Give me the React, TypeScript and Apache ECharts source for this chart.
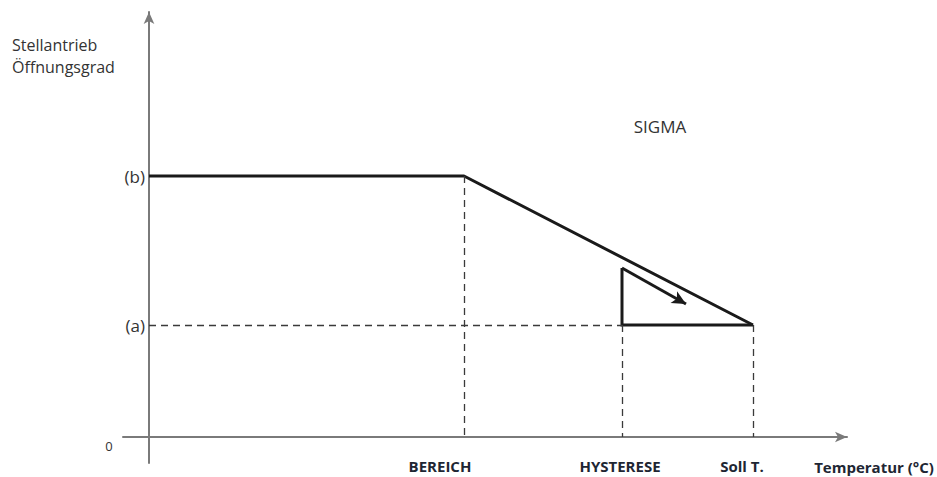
import React, { useEffect, useRef } from 'react';
import * as echarts from 'echarts';

// Conceptual axis units (origin = intersection of the axes)
const xMin = -26;
const xMax = 698;
const yMin = -26;
const yMax = 425;

// Characteristic temperatures on the x axis
const xMarks = [315, 473, 604];
const xMarkLabels = ['BEREICH', 'HYSTERESE', 'Soll T.'];

// Characteristic actuator opening levels on the y axis
const levelValues = [112, 261];
const levelLabels = ['(a)', '(b)'];

// SIGMA curve
const curveX = [0, 315, 604];
const curveY = [261, 261, 112];

// Hysteresis triangle (open sides)
const triangleX = [473, 473, 604];
const triangleY = [169, 112, 112];

// Arrow inside the triangle
const arrowX = [473, 537];
const arrowY = [169, 133];

const zip = (xs: number[], ys: number[]) => xs.map((x, i) => [x, ys[i]]);

export default function App() {
  const ref = useRef<HTMLDivElement>(null);

  useEffect(() => {
    if (!ref.current) return;
    const chart = echarts.init(ref.current, undefined, { renderer: 'svg' });
    const axisColor = '#7a7a7a';
    const dashColor = '#3a3a3a';
    const labelColor = '#1e2633';
    const boldLabel = { fontFamily: 'Open Sans', fontWeight: 'bold', fontSize: 15, color: labelColor };

    const dashed = {
      type: 'line',
      data: [],
      silent: true,
      markLine: {
        silent: true,
        symbol: ['none', 'none'],
        label: { show: false },
        lineStyle: { color: dashColor, width: 1.3, type: [7, 5] },
        data: [
          [{ coord: [xMarks[0], curveY[1]] }, { coord: [xMarks[0], 0] }],
          [{ coord: [xMarks[1], levelValues[0]] }, { coord: [xMarks[1], 0] }],
          [{ coord: [xMarks[2], levelValues[0]] }, { coord: [xMarks[2], 0] }],
          [{ coord: [0, levelValues[0]] }, { coord: [xMarks[1], levelValues[0]] }],
        ],
      },
    };

    chart.setOption({
      animation: false,
      backgroundColor: '#ffffff',
      grid: {
        left: 123,
        top: 12,
        width: 724,
        height: 451,
        containLabel: false,
        outerBoundsMode: 'none',
      },
      xAxis: {
        type: 'value',
        min: xMin,
        max: xMax,
        splitLine: { show: false },
        axisTick: { show: false },
        axisLine: {
          onZero: true,
          symbol: ['none', 'arrow'],
          symbolSize: [8, 12],
          lineStyle: { color: axisColor, width: 2 },
        },
        axisLabel: {
          customValues: xMarks,
          margin: -5,
          formatter: (v: number) => {
            const i = xMarks.indexOf(v);
            return i < 0 ? '' : `{l${i}|${xMarkLabels[i]}}`;
          },
          rich: {
            l0: { ...boldLabel, padding: [0, 48, 0, 0] },
            l1: { ...boldLabel, padding: [0, 4, 0, 0] },
            l2: { ...boldLabel, padding: [0, 22, 0, 0] },
          },
        },
      },
      yAxis: {
        type: 'value',
        min: yMin,
        max: yMax,
        splitLine: { show: false },
        axisTick: { show: false },
        axisLine: {
          onZero: true,
          symbol: ['none', 'arrow'],
          symbolSize: [8, 12],
          lineStyle: { color: axisColor, width: 2 },
        },
        axisLabel: {
          customValues: levelValues,
          margin: -22,
          fontFamily: 'Open Sans',
          fontSize: 17,
          color: '#333333',
          formatter: (v: number) => {
            const i = levelValues.indexOf(v);
            return i < 0 ? '' : levelLabels[i];
          },
        },
      },
      graphic: [
        {
          type: 'text',
          x: 12,
          y: 34,
          silent: true,
          style: {
            text: 'Stellantrieb\nÖffnungsgrad',
            font: '16px "Open Sans"',
            lineHeight: 22,
            fill: '#333333',
          },
        },
        {
          type: 'text',
          x: 660,
          y: 126,
          silent: true,
          style: {
            text: 'SIGMA',
            font: '17px "Open Sans"',
            fill: '#333333',
            textAlign: 'center',
            textVerticalAlign: 'middle',
          },
        },
        {
          type: 'text',
          x: 109,
          y: 446,
          silent: true,
          style: {
            text: '0',
            font: '13px "Open Sans"',
            fill: '#333333',
            textAlign: 'center',
            textVerticalAlign: 'middle',
          },
        },
        {
          type: 'text',
          x: 874,
          y: 467,
          silent: true,
          style: {
            text: 'Temperatur (°C)',
            font: 'bold 15px "Open Sans"',
            fill: labelColor,
            textAlign: 'center',
            textVerticalAlign: 'middle',
          },
        },
      ],
      series: [
        dashed,
        {
          type: 'line',
          data: zip(curveX, curveY),
          showSymbol: false,
          symbol: 'none',
          lineStyle: { color: '#1a1a1a', width: 3 },
          silent: true,
        },
        {
          type: 'line',
          data: zip(triangleX, triangleY),
          showSymbol: false,
          symbol: 'none',
          lineStyle: { color: '#1a1a1a', width: 3, join: 'miter' },
          silent: true,
        },
        {
          type: 'line',
          data: [],
          silent: true,
          markLine: {
            silent: true,
            symbol: ['none', 'arrow'],
            symbolSize: [10, 14],
            label: { show: false },
            lineStyle: { color: '#1a1a1a', width: 3, type: 'solid' },
            data: [[{ coord: [arrowX[0], arrowY[0]] }, { coord: [arrowX[1], arrowY[1]] }]],
          },
        },
      ],
    });
    return () => chart.dispose();
  }, []);

  return (
    <div
      ref={ref}
      style={{ position: 'fixed', left: 0, top: 0, width: 937, height: 477 }}
    />
  );
}
